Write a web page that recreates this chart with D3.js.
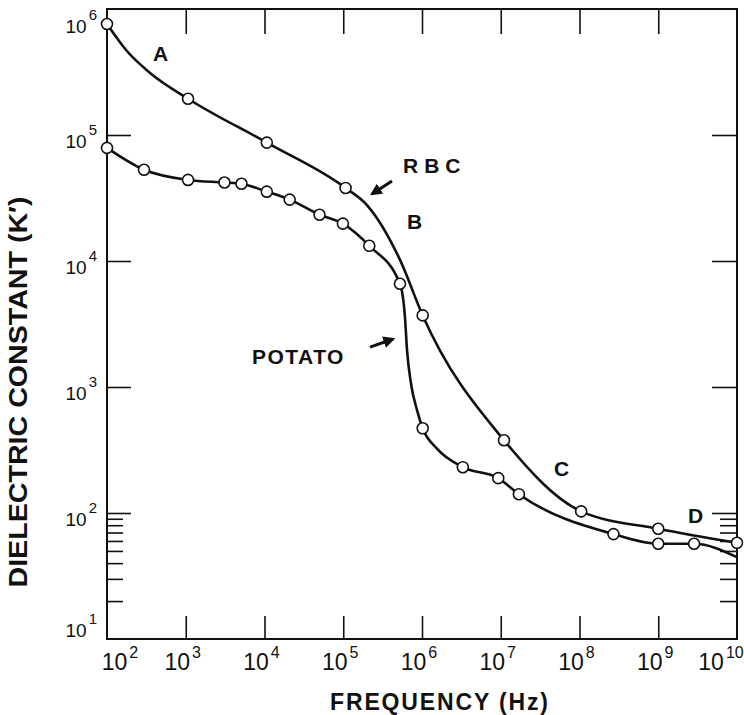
<!DOCTYPE html>
<html>
<head>
<meta charset="utf-8">
<script src="https://cdn.jsdelivr.net/npm/d3@7/dist/d3.min.js"></script>
<style>
    body { margin: 0; background: #fff; }
    text { font-family: "Liberation Sans", Arial, sans-serif; fill: #111; }
</style>
</head>
<body>
<div id="chart"></div>
<script>
// RBC curve (A..D), measured circles
var rbcFreq = [1e2, 1.07e3, 1.07e4, 1.07e5, 1.02e6, 1.1e7, 1.05e8, 1e9, 1e10];
var rbcK = [7.6e5, 1.94e5, 8.7e4, 3.8e4, 3.7e3, 378, 103, 75, 58];
// extra points (no circle drawn)
var rbcTraceFreq = [1.79e2, 3.52e2, 2.0e5, 5.26e5];
var rbcTraceK = [4.64e5, 3.11e5, 2.78e4, 1.02e4];

// potato curve, measured circles
var potatoFreq = [1e2, 2.95e2, 1.07e3, 3.1e3, 5.1e3, 1.07e4, 2.09e4, 5.0e4, 9.9e4, 2.14e5, 5.25e5,
    1.02e6, 3.3e6, 9.3e6, 1.7e7, 2.7e8, 1e9, 2.85e9];
var potatoK = [7.9e4, 5.3e4, 4.4e4, 4.2e4, 4.1e4, 3.55e4, 3.07e4, 2.33e4, 1.98e4, 1.32e4, 6.6e3,
    470, 231, 189, 141, 68, 57, 57];
// extra points along the potato line (steep drop and the tail)
var potatoTraceFreq = [6.08e5, 6.46e5, 7.24e5, 8.7e5, 1.55e6, 1e10];
var potatoTraceK = [3.56e3, 1.95e3, 1.07e3, 646, 324, 44.6];

var xTickValues = [1e2, 1e3, 1e4, 1e5, 1e6, 1e7, 1e8, 1e9, 1e10];
var xTickExp = ["2", "3", "4", "5", "6", "7", "8", "9", "10"];
var yTickValues = [1e1, 1e2, 1e3, 1e4, 1e5, 1e6];
var yTickExp = ["1", "2", "3", "4", "5", "6"];
var yMinorValues = [20, 30, 40, 50, 60, 70, 80, 90];

// curve labels and arrows, in data units
var curveLabels = [
    {text: "A", f: 384, k: 3.86e5},
    {text: "RBC", f: 5.74e5, k: 4.99e4},
    {text: "B", f: 6.46e5, k: 1.79e4},
    {text: "POTATO", f: 6.93e3, k: 1524},
    {text: "C", f: 4.74e7, k: 197},
    {text: "D", f: 2.39e9, k: 83.4}
];
var arrows = [
    {f1: 4.16e5, k1: 4.32e4, f2: 2.32e5, k2: 3.40e4},
    {f1: 2.19e5, k1: 2075, f2: 4.29e5, k2: 2404}
];

function zipPoints(fs, ks) {
    return fs.map(function(f, i) {
        return {f: f, k: ks[i]};
    });
}

var margin = {top: 9, right: 7, bottom: 76, left: 107},
    width = 744 - margin.left - margin.right,
    height = 715 - margin.top - margin.bottom;

var svg = d3.select("#chart")
    .append("svg")
    .attr("width", 744)
    .attr("height", 715);

var plot = svg.append("g")
    .attr("transform", "translate(" + margin.left + "," + margin.top + ")");

var x = d3.scaleLog().domain([1e2, 1e10]).range([0, width]);
var y = d3.scaleLog().domain([1e1, 1e6]).range([height, 0]);

// ticks (pointing inward), drawn with d3 axes
var inner = xTickValues.slice(1, -1);

function styleAxis(g) {
    g.select(".domain").remove();
    g.selectAll(".tick line").attr("stroke", "#111").attr("stroke-width", 1.6);
}

plot.append("g")
    .attr("transform", "translate(0," + height + ")")
    .call(d3.axisBottom(x).tickValues(inner).tickSize(-23).tickFormat(""))
    .call(styleAxis);

plot.append("g")
    .call(d3.axisTop(x).tickValues(inner).tickSize(-25).tickFormat(""))
    .call(styleAxis);

plot.append("g")
    .call(d3.axisLeft(y).tickValues([1e2, 1e3, 1e4, 1e5]).tickSize(-24).tickFormat(""))
    .call(styleAxis);
plot.append("g")
    .call(d3.axisLeft(y).tickValues(yMinorValues).tickSize(-16).tickFormat(""))
    .call(styleAxis);

plot.append("g")
    .attr("transform", "translate(" + width + ",0)")
    .call(d3.axisRight(y).tickValues([1e2, 1e3, 1e4, 1e5]).tickSize(-25).tickFormat(""))
    .call(styleAxis);
plot.append("g")
    .attr("transform", "translate(" + width + ",0)")
    .call(d3.axisRight(y).tickValues(yMinorValues).tickSize(-17).tickFormat(""))
    .call(styleAxis);

// frame
plot.append("rect")
    .attr("width", width)
    .attr("height", height)
    .attr("fill", "none")
    .attr("stroke", "#111")
    .attr("stroke-width", 2);

// x tick labels 10^n
var xl = plot.selectAll(".xlab")
    .data(xTickValues)
    .enter()
    .append("text")
    .attr("class", "xlab")
    .attr("text-anchor", "middle")
    .attr("x", function(d, i) {
        var shift = i == 0 ? 13 : (i == xTickValues.length - 1 ? -16 : -3);
        return x(d) + shift;
    })
    .attr("y", height + 31)
    .style("font-size", "23px");
xl.append("tspan").text("10");
xl.append("tspan")
    .attr("dx", 2)
    .attr("dy", -12)
    .style("font-size", "16px")
    .text(function(d, i) { return xTickExp[i]; });

// y tick labels
var yl = plot.selectAll(".ylab")
    .data(yTickValues)
    .enter()
    .append("text")
    .attr("class", "ylab")
    .attr("text-anchor", "end")
    .attr("x", -10)
    .attr("y", function(d, i) {
        var off = i == 0 ? -2 : (i == yTickValues.length - 1 ? 24 : 13);
        return y(d) + off;
    })
    .style("font-size", "19px");
yl.append("tspan").text("10");
yl.append("tspan")
    .attr("dx", 2)
    .attr("dy", -13)
    .style("font-size", "15px")
    .text(function(d, i) { return yTickExp[i]; });

// axis titles
svg.append("text")
    .attr("transform", "translate(27,392) rotate(-90)")
    .attr("text-anchor", "middle")
    .attr("textLength", 391)
    .attr("lengthAdjust", "spacingAndGlyphs")
    .style("font-size", "26px")
    .style("font-weight", "bold")
    .text("DIELECTRIC CONSTANT (K\u2032)");

svg.append("text")
    .attr("x", margin.left + width / 2 + 17)
    .attr("y", 710)
    .attr("text-anchor", "middle")
    .attr("textLength", 218)
    .style("font-size", "23px")
    .style("font-weight", "bold")
    .text("FREQUENCY (Hz)");

// curves
var line = d3.line()
    .x(function(d) { return x(d.f); })
    .y(function(d) { return y(d.k); })
    .curve(d3.curveMonotoneX);

var rbcPts = zipPoints(rbcFreq, rbcK);
var potatoPts = zipPoints(potatoFreq, potatoK);
var rbcLine = rbcPts.concat(zipPoints(rbcTraceFreq, rbcTraceK))
    .sort(function(a, b) { return a.f - b.f; });
var potatoLine = potatoPts.concat(zipPoints(potatoTraceFreq, potatoTraceK))
    .sort(function(a, b) { return a.f - b.f; });

[rbcLine, potatoLine].forEach(function(ds) {
    plot.append("path")
        .datum(ds)
        .attr("d", line)
        .attr("fill", "none")
        .attr("stroke", "#111")
        .attr("stroke-width", 2.6);
});

plot.selectAll(".dot")
    .data(rbcPts.concat(potatoPts))
    .enter().append("circle")
    .attr("class", "dot")
    .attr("cx", function(d) { return x(d.f); })
    .attr("cy", function(d) { return y(d.k); })
    .attr("r", 5.5)
    .attr("fill", "#fff")
    .attr("stroke", "#111")
    .attr("stroke-width", 1.6);

// labels on curves
plot.selectAll(".clab")
    .data(curveLabels)
    .enter().append("text")
    .attr("class", "clab")
    .attr("x", function(d) { return x(d.f); })
    .attr("y", function(d) { return y(d.k); })
    .attr("letter-spacing", function(d) { return d.text == "RBC" ? 6 : (d.text == "POTATO" ? 1.5 : 0); })
    .style("font-size", "21px")
    .style("font-weight", "bold")
    .text(function(d) { return d.text; });

svg.append("defs")
    .append("marker")
    .attr("id", "head")
    .attr("viewBox", "0 0 10 10")
    .attr("refX", 8)
    .attr("refY", 5)
    .attr("markerWidth", 4)
    .attr("markerHeight", 4)
    .attr("orient", "auto")
    .append("path")
    .attr("d", "M0,0L10,5L0,10z")
    .attr("fill", "#111");

plot.selectAll(".arrow")
    .data(arrows)
    .enter().append("line")
    .attr("class", "arrow")
    .attr("x1", function(d) { return x(d.f1); })
    .attr("y1", function(d) { return y(d.k1); })
    .attr("x2", function(d) { return x(d.f2); })
    .attr("y2", function(d) { return y(d.k2); })
    .attr("stroke", "#111")
    .attr("stroke-width", 3)
    .attr("marker-end", "url(#head)");
</script>
</body>
</html>
